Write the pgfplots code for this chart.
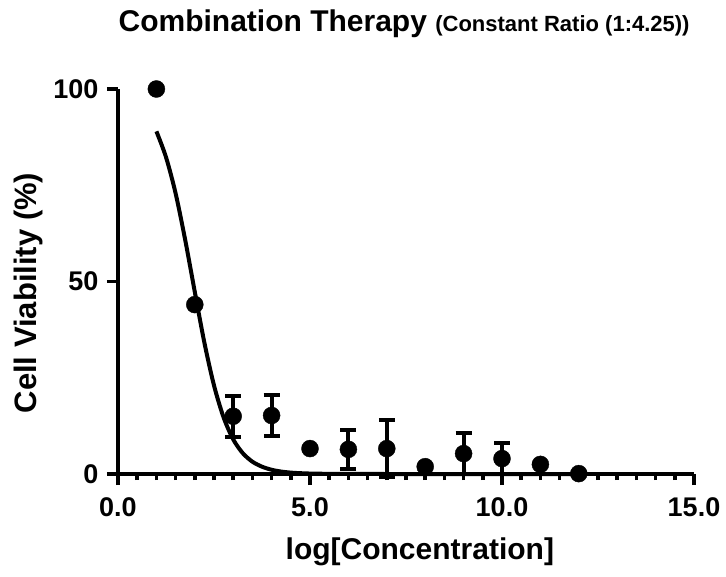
\documentclass[border=0pt]{standalone}
\usepackage{pgfplots}
\pgfplotsset{compat=1.18}
\usepackage{fontspec}
\setmainfont{Liberation Sans}

\begin{document}
\begin{tikzpicture}
\useasboundingbox (-118pt,-102pt) rectangle (608pt,474pt);
\begin{axis}[
  scale only axis, width=576pt, height=385pt,
  xmin=0, xmax=15, ymin=0, ymax=100,
  axis lines=left, axis line style={-, line width=4.5pt},
  clip=false,
  xtick={0,5,10,15}, xticklabels={0.0,5.0,10.0,15.0},
  ytick={0,50,100}, yticklabels={0,50,100},
  minor x tick num=9,
  tick align=outside,
  major tick length=11pt, minor tick length=6pt,
  every tick/.style={black, line width=3.5pt},
  tick label style={font=\fontsize{27}{30}\selectfont\bfseries},
  xticklabel style={yshift=-9pt},
  yticklabel style={xshift=-5pt},
  xlabel={log[Concentration]},
  xlabel style={font=\fontsize{30}{34}\selectfont\bfseries, at={(axis description cs:0.524,-0.223)}, anchor=base},
  ylabel={Cell Viability (\%)},
  ylabel style={font=\fontsize{31}{34}\selectfont\bfseries, at={(axis description cs:-0.141,0.47)}, anchor=base, rotate=0},
  title={\fontsize{30}{34}\selectfont\bfseries Combination Therapy \fontsize{22}{26}\selectfont(Constant Ratio (1:4.25))},
  title style={at={(axis description cs:-0.005,1.1325)}, anchor=base west},
]
% fitted curve
\addplot[black, line width=4pt, smooth] coordinates {
 (1.0,89.0) (1.25,82.3) (1.5,72.9) (1.75,60.8) (2.0,47.3) (2.25,34.1)
 (2.5,23.0) (2.75,14.7) (3.0,9.0) (3.25,5.4) (3.5,3.2) (3.75,1.9)
 (4.0,1.1) (4.25,0.63) (4.5,0.36) (4.75,0.21) (5.0,0.12) (5.5,0.04)
 (6,0.01) (7,0) (8,0) (9,0) (10,0) (11,0) (12,0)};
% data with SD
\addplot[black, only marks, mark=*, mark size=8.5pt,
  error bars/.cd, y dir=both, y explicit,
  error bar style={line width=4pt},
  error mark options={rotate=90, mark size=8pt, line width=4pt}]
  table[x=x, y=y, y error=e] {
x y e
1 100 0
2 44 0
3 15.0 5.3
4 15.2 5.4
5 6.6 0
6 6.4 5.0
7 6.6 7.5
8 1.9 0
9 5.3 5.3
10 4.0 4.1
11 2.5 0
12 0.1 0
};
\end{axis}
\end{tikzpicture}
\end{document}
